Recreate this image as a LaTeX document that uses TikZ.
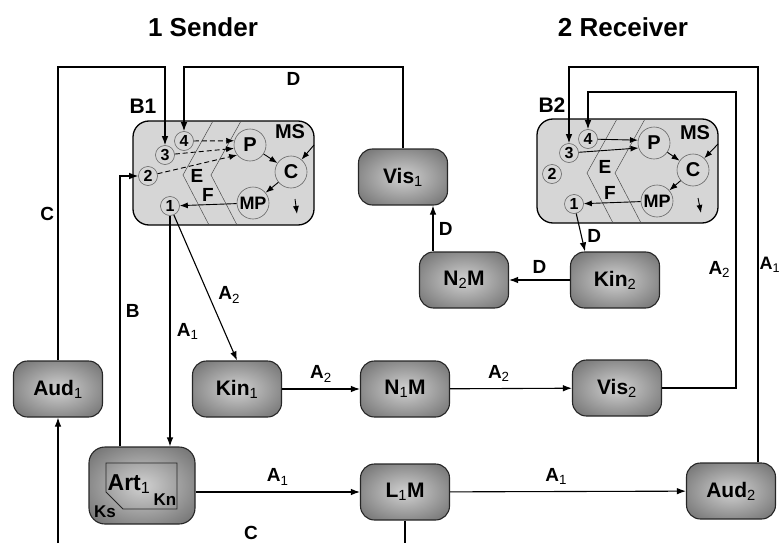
\documentclass[tikz,border=0pt]{standalone}
\usepackage{fontspec}
\setmainfont{Liberation Sans}
\usetikzlibrary{arrows.meta,calc}
\pgfdeclareradialshading{boxshade}{\pgfpoint{0bp}{0bp}}{color(0bp)=(black!18); color(36bp)=(black!58); color(50bp)=(black!74)}
\newcommand\ix[1]{\textsubscript{\mdseries #1}}
\begin{document}
\begin{tikzpicture}[x=1pt,y=-1pt,heading/.style={font=\fontsize{26}{28}\selectfont\bfseries},unit/.style={draw=black!85,line width=1.1pt,rounded corners=14pt,shading=boxshade,minimum width=89pt,minimum height=56pt,inner sep=0pt,font=\fontsize{21}{22}\selectfont\bfseries},brain/.style={draw=black,line width=1.3pt,fill=black!16,rounded corners=16pt},organ/.style={circle,draw=black!60,line width=0.6pt,fill=black!16,minimum size=32pt,inner sep=0pt,font=\fontsize{20}{20}\selectfont\bfseries},port/.style={circle,draw=black!60,line width=0.6pt,fill=black!16,minimum size=19pt,inner sep=0pt,font=\fontsize{16}{16}\selectfont\bfseries},lbl/.style={font=\fontsize{19}{19}\selectfont\bfseries},zone/.style={black!70,line width=0.5pt},wire/.style={black,line width=1.1pt},link/.style={black,line width=1.1pt,-{Latex[length=9pt,width=6.5pt]}},inner/.style={black,line width=0.9pt,-{Latex[length=8pt,width=6pt]}}]
\useasboundingbox (0,0) rectangle (781,543);
\def\bax{133}
\def\bay{121}
\def\bbx{537}
\def\bby{119}
\def\bw{181}
\def\bh{104}
\coordinate (topY) at (0,67);
\coordinate (innerY) at (0,92);
\coordinate (innerX) at (736,0);
\coordinate (bottom) at (0,543);

\node[heading] (sendTitle) at (203,27) {1 Sender};
\node[heading] (recvTitle) at (623,27) {2 Receiver};

\draw[brain] (\bax,\bay) rectangle (\bax+\bw,\bay+\bh);
\node[lbl,font=\fontsize{21}{21}\selectfont\bfseries] (sendBL) at (\bax+10,\bay-15) {B1};
\draw[zone] (\bax+80,\bay) -- (\bax+50,\bay+54) -- (\bax+76,\bay+\bh);
\draw[zone] (\bax+108,\bay) -- (\bax+78,\bay+54) -- (\bax+104,\bay+\bh);
\node[port] (sendC4) at (\bax+51,\bay+20) {4};
\node[port] (sendC3) at (\bax+32,\bay+34) {3};
\node[port] (sendC2) at (\bax+15,\bay+55) {2};
\node[port] (sendC1) at (\bax+37,\bay+85) {1};
\node[organ] (sendP) at (\bax+117,\bay+24) {P};
\node[organ] (sendC) at (\bax+158,\bay+51) {C};
\node[organ,font=\fontsize{18}{18}\selectfont\bfseries] (sendMP) at (\bax+120,\bay+82) {MP};
\node[lbl,font=\fontsize{20}{20}\selectfont\bfseries] (sendMS) at (\bax+157,\bay+11) {MS};
\node[lbl] (sendE) at (\bax+64,\bay+55) {E};
\node[lbl] (sendF) at (\bax+75,\bay+74) {F};
\coordinate (sendMSin) at (\bax+\bw,\bay+24);
\coordinate (sendOutA) at (\bax+162,\bay+78);
\coordinate (sendOutB) at (\bax+164,\bay+93);
\draw[inner,dashed,dash pattern=on 5pt off 3pt] (sendC4) -- (sendP.165);
\draw[inner,dashed,dash pattern=on 5pt off 3pt] (sendC3) -- (sendP.192);
\draw[inner,dashed,dash pattern=on 5pt off 3pt] (sendC2) -- (sendP.218);
\draw[inner] (sendP) -- (sendC);
\draw[inner] (sendC) -- (sendMP);
\draw[inner] (sendMP) -- (sendC1);
\draw[inner] (sendMSin) -- (sendC);
\draw[inner] (sendOutA) -- (sendOutB);

\draw[brain] (\bbx,\bby) rectangle (\bbx+\bw,\bby+\bh);
\node[lbl,font=\fontsize{21}{21}\selectfont\bfseries] (recvBL) at (\bbx+15,\bby-14) {B2};
\draw[zone] (\bbx+80,\bby) -- (\bbx+50,\bby+54) -- (\bbx+76,\bby+\bh);
\draw[zone] (\bbx+108,\bby) -- (\bbx+78,\bby+54) -- (\bbx+104,\bby+\bh);
\node[port] (recvC4) at (\bbx+51,\bby+20) {4};
\node[port] (recvC3) at (\bbx+32,\bby+34) {3};
\node[port] (recvC2) at (\bbx+15,\bby+55) {2};
\node[port] (recvC1) at (\bbx+37,\bby+85) {1};
\node[organ] (recvP) at (\bbx+117,\bby+24) {P};
\node[organ] (recvC) at (\bbx+156,\bby+51) {C};
\node[organ,font=\fontsize{18}{18}\selectfont\bfseries] (recvMP) at (\bbx+120,\bby+82) {MP};
\node[lbl,font=\fontsize{20}{20}\selectfont\bfseries] (recvMS) at (\bbx+158,\bby+14) {MS};
\node[lbl] (recvE) at (\bbx+68,\bby+48) {E};
\node[lbl] (recvF) at (\bbx+73,\bby+74) {F};
\coordinate (recvMSin) at (\bbx+\bw,\bby+25);
\coordinate (recvOutA) at (\bbx+161,\bby+79);
\coordinate (recvOutB) at (\bbx+164,\bby+94);
\draw[inner] (recvC4) -- (recvP.170);
\draw[inner] (recvC3) -- (recvP.198);
\draw[inner] (recvP) -- (recvC);
\draw[inner] (recvC) -- (recvMP);
\draw[inner] (recvMP) -- (recvC1);
\draw[inner] (recvMSin) -- (recvC);
\draw[inner] (recvOutA) -- (recvOutB);

\node[unit] (vis1) at (403,177) {Vis\ix1};
\node[unit] (n2m) at (464,280) {N\ix2M};
\node[unit] (kin2) at (615,280) {Kin\ix2};
\node[unit] (aud1) at (58,389) {Aud\ix1};
\node[unit] (kin1) at (237,389) {Kin\ix1};
\node[unit] (n1m) at (405,389) {N\ix1M};
\node[unit] (vis2) at (617,388) {Vis\ix2};
\node[unit] (l1m) at (405,492) {L\ix1M};
\node[unit] (aud2) at (731,491) {Aud\ix2};
\node[unit,minimum width=106pt,minimum height=77pt,rounded corners=16pt] (art1) at (142,485.5) {};
\draw[black!85,line width=0.8pt] ($(art1)+(-36,-22.5)$) -- ($(art1)+(35,-22.5)$) -- ($(art1)+(35,23.5)$) -- ($(art1)+(-19,23.5)$) -- ($(art1)+(-36,6.5)$) -- cycle;
\node[font=\fontsize{23}{23}\selectfont\bfseries] (artLbl) at (129,484) {Art\ix1};
\node[font=\fontsize{17}{17}\selectfont\bfseries] (artKn) at (165,500) {Kn};
\node[font=\fontsize{17}{17}\selectfont\bfseries] (artKs) at (105,512) {Ks};

\draw[link] (aud1.north) -- node[lbl,left]{C} (aud1.north |- topY) -| (sendC3.north);
\draw[link] (vis1.north) |- node[lbl,pos=0.75,below=2pt]{D} (topY -| sendC4.north) -- (sendC4.north);
\draw[link] ([xshift=-22pt]art1.north) |- node[lbl,pos=0.25,right=2pt]{B} (sendC2.west);
\draw[link] (sendC1.south) -- node[lbl,midway,right=3pt]{A\ix1} (sendC1.south |- art1.north);
\draw[link] (sendC1) -- node[lbl,pos=0.55,right=6pt]{A\ix2} (kin1.north);
\draw[link] (kin1) -- node[lbl,above=3pt]{A\ix2} (n1m);
\draw[link] (n1m) -- node[lbl,pos=0.4,above=3pt]{A\ix2} (vis2);
\draw[link] (art1.east |- l1m.west) -- node[lbl,above=3pt]{A\ix1} (l1m.west);
\draw[link] (l1m) -- node[lbl,pos=0.45,above=3pt]{A\ix1} (aud2);
\draw[link] (vis2.east) -| node[lbl,pos=0.7,left=2pt]{A\ix2} (innerX |- innerY) -| (recvC4.north);
\draw[link] ([xshift=27pt]aud2.north) |- node[lbl,pos=0.25,right=0pt,inner sep=1pt,font=\fontsize{18}{18}\selectfont\bfseries]{A\ix1} (topY -| recvC3.north) -- (recvC3.north);
\draw[link] (recvC1) -- node[lbl,pos=0.6,right=2pt]{D} ([xshift=-30pt]kin2.north);
\draw[link] (kin2) -- node[lbl,above=3pt]{D} (n2m);
\draw[link] ([xshift=-31pt]n2m.north) -- node[lbl,midway,right=2pt]{D} ([xshift=-31pt]n2m.north |- vis1.south);
\draw[wire] (l1m.south) -- (l1m.south |- bottom);
\draw[link] (aud1.south |- bottom) -- (aud1.south);
\node[lbl] (cLabel) at (251,533) {C};
\end{tikzpicture}
\end{document}
